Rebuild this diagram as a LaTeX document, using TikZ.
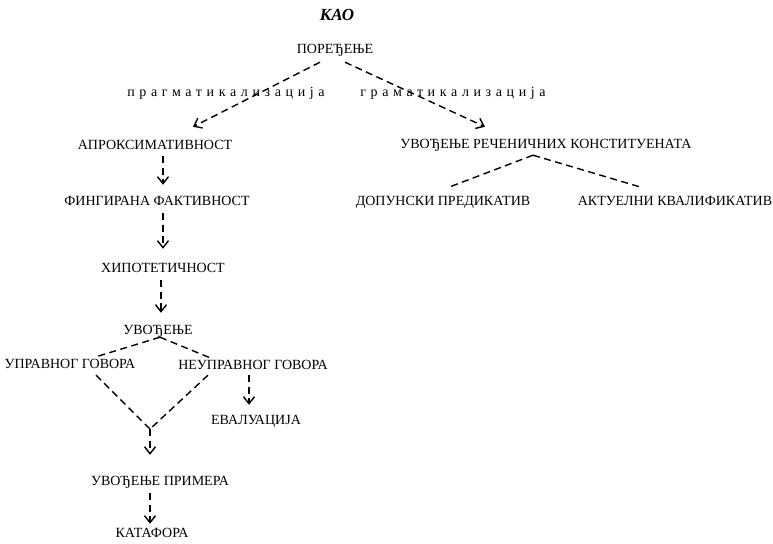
\documentclass[tikz,border=0pt]{standalone}
\usepackage{fontspec}
\setmainfont{Liberation Serif}
\usetikzlibrary{arrows.meta}

\tikzset{
  term/.style={inner sep=1pt, text height=10pt, text depth=2pt, font=\fontsize{14}{16}\selectfont},
  spaced/.style={term, font=\fontsize{14}{16}\selectfont\addfontfeature{LetterSpace=33}},
  dline/.style={line width=1.4pt, dash pattern=on 7pt off 4.5pt},
  darrow/.style={dline, -{Straight Barb[length=7pt,width=11pt,line width=1.4pt]}},
}

\begin{document}
\begin{tikzpicture}[x=1pt,y=-1pt]
    \useasboundingbox (0,0) rectangle (773,543);
    % top
    \node[font=\fontsize{17}{19}\selectfont\bfseries\itshape] (kao) at (337,15) {КАО};
    \node[term] (por) at (335,49) {ПОРЕЂЕЊЕ};
    \node[spaced] (prag) at (226,92) {прагматикализација};
    \node[spaced] (gram) at (453,92) {граматикализација};
    % right branch
    \node[term] (uvr) at (546,144) {УВОЂЕЊЕ РЕЧЕНИЧНИХ КОНСТИТУЕНАТА};
    \node[term] (dop) at (443,201) {ДОПУНСКИ ПРЕДИКАТИВ};
    \node[term] (akt) at (675,201) {АКТУЕЛНИ КВАЛИФИКАТИВ};
    % left branch
    \node[term] (apr) at (155,145) {АПРОКСИМАТИВНОСТ};
    \node[term] (fin) at (157,201) {ФИНГИРАНА ФАКТИВНОСТ};
    \node[term] (hip) at (163,268) {ХИПОТЕТИЧНОСТ};
    \node[term] (uvo) at (158,330) {УВОЂЕЊЕ};
    \node[term] (upr) at (70,364) {УПРАВНОГ ГОВОРА};
    \node[term] (neu) at (253,365) {НЕУПРАВНОГ ГОВОРА};
    \node[term] (eva) at (256,420) {ЕВАЛУАЦИЈА};
    \coordinate (spoj) at (150,429);
    \node[term] (pri) at (160,481) {УВОЂЕЊЕ ПРИМЕРА};
    \node[term] (kat) at (152,533) {КАТАФОРА};

    \draw[darrow] ([xshift=-15pt,yshift=-6pt]por.south) -- ([xshift=38pt,yshift=11pt]apr.north);
    \draw[darrow] ([xshift=10pt,yshift=-6pt]por.south) -- ([xshift=-61pt,yshift=10pt]uvr.north);
    \draw[dline] ([xshift=-13pt,yshift=-4pt]uvr.south) -- ([xshift=7pt,yshift=7pt]dop.north);
    \draw[dline] ([xshift=-13pt,yshift=-4pt]uvr.south) -- ([xshift=-32pt,yshift=6pt]akt.north);

    \draw[darrow] ([xshift=8pt,yshift=-4pt]apr.south) -- ([xshift=6pt,yshift=9pt]fin.north);
    \draw[darrow] ([xshift=6pt,yshift=-5pt]fin.south) -- ([yshift=12pt]hip.north);
    \draw[darrow] ([xshift=-2pt,yshift=-5pt]hip.south) -- ([xshift=3pt,yshift=10pt]uvo.north);
    \draw[dline] ([xshift=2pt]uvo.south) -- ([xshift=26pt]upr.north);
    \draw[dline] ([xshift=2pt]uvo.south) -- ([xshift=-43pt]neu.north);
    \draw[dline] ([xshift=26pt,yshift=-4pt]upr.south) -- (spoj);
    \draw[dline] ([xshift=-45pt,yshift=-3pt]neu.south) -- (spoj);
    \draw[darrow] (spoj) -- ([xshift=-10pt,yshift=19pt]pri.north);
    \draw[darrow] ([xshift=-4pt,yshift=-3pt]neu.south) -- ([xshift=-7pt,yshift=8pt]eva.north);
    \draw[darrow] ([xshift=-10pt,yshift=-5pt]pri.south) -- ([xshift=-2pt,yshift=2pt]kat.north);
\end{tikzpicture}
\end{document}
